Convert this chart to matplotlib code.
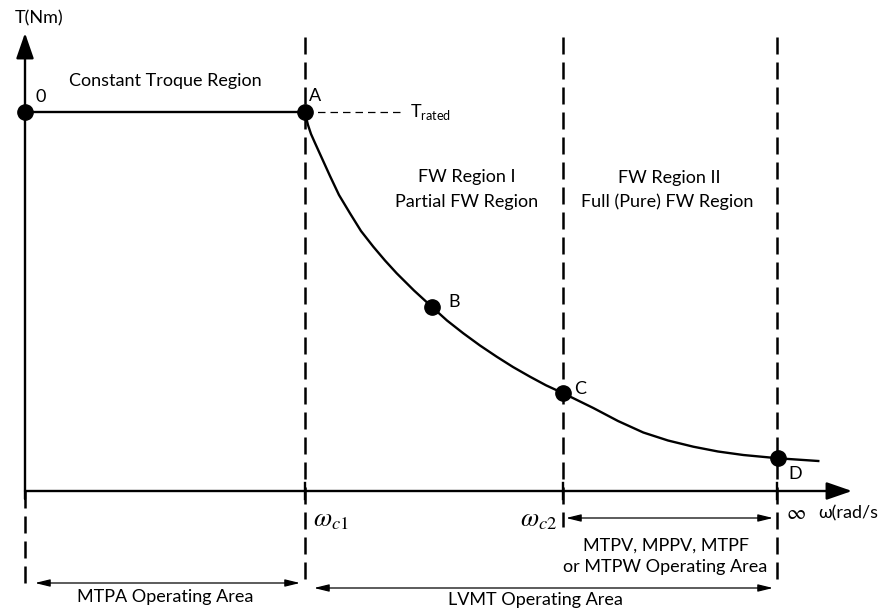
import matplotlib
matplotlib.use("Agg")
import matplotlib.pyplot as plt

plt.rcParams['font.family'] = ['Lato', 'DejaVu Sans']
plt.rcParams['mathtext.fontset'] = 'stix'

# speed (w) and torque (T) in drawing units, origin at the axes crossing
w_c1 = 280
w_c2 = 538
w_inf = 752
T_rated = 379
w_end = 827
T_top = 458

# torque-speed envelope
curve_w = [0, 280, 281, 283, 286, 290, 295, 300, 305, 314, 325, 336, 348.3,
           360, 371.7, 389, 406.7, 422, 438.3, 455, 471.7, 488, 505, 521,
           538.3, 568.3, 593, 618.3, 643, 668.3, 693, 718.3, 753.3, 793.3]
curve_T = [379, 379, 374, 366, 357, 348, 337, 326, 315, 296, 277.7, 260, 244.3,
           230.5, 217.7, 200.5, 184.3, 170.5, 157.7, 145.5, 134.3, 124, 114.3, 105.7,
           97.7, 83, 70, 58.5, 50.5, 44.3, 39.5, 36, 32.7, 30]

pt_names = ['0', 'A', 'B', 'C', 'D']
pt_w = [0, 280, 406.7, 538.3, 753.3]
pt_T = [379, 379, 184.3, 97.7, 32.7]

fig = plt.figure(figsize=(8.88, 6.12), dpi=100)
ax = fig.add_axes([0, 0, 1, 1])
ax.set_xlim(-25, 863)
ax.set_ylim(-121, 491)
ax.axis('off')

#坐标轴
head = dict(arrowstyle='-|>,head_length=1.3,head_width=0.45', lw=1.7,
            color='black', mutation_scale=12, shrinkA=0, shrinkB=0)
ax.annotate('', xy=(0, T_top), xytext=(0, -8), arrowprops=head)
ax.annotate('', xy=(w_end, 0), xytext=(0, 0), arrowprops=head)
for w in [w_c1, w_c2, w_inf]:
    ax.plot([w, w], [-8, 8], color='black', lw=1.7)

#虚线
dash = dict(color='black', lw=1.8, dashes=(6.8, 3.2))
ax.plot([0, 0], [0, -92], **dash)
ax.plot([w_c1, w_c1], [454, -92], **dash)
ax.plot([w_c2, w_c2], [454, -36], **dash)
ax.plot([w_inf, w_inf], [454, -92], **dash)
ax.plot([w_c1, 377], [T_rated, T_rated], color='black', lw=0.9, dashes=(6, 4))

#曲线
ax.plot(curve_w, curve_T, color='black', lw=1.7, solid_joinstyle='round')
ax.plot(pt_w, pt_T, 'o', color='black', ms=11, ls='none')

fs = 13
ax.text(14, 473, 'T(Nm)', fontsize=fs, ha='center', va='center')
ax.text(140, 410, 'Constant Troque Region', fontsize=fs, ha='center', va='center')
ax.text(10, 394, '0', fontsize=fs, ha='left', va='center')
ax.text(284, 395, 'A', fontsize=fs, ha='left', va='center')
ax.text(423, 189, 'B', fontsize=fs, ha='left', va='center')
ax.text(549, 102, 'C', fontsize=fs, ha='left', va='center')
ax.text(763, 17, 'D', fontsize=fs, ha='left', va='center')
ax.text(385, 379, r'T$_\mathregular{rated}$', fontsize=fs, ha='left', va='center',
        math_fontfamily='dejavusans')
ax.text(442, 314, 'FW Region I', fontsize=fs, ha='center', va='center')
ax.text(442, 289, 'Partial FW Region', fontsize=fs, ha='center', va='center')
ax.text(644, 313, 'FW Region II', fontsize=fs, ha='center', va='center')
ax.text(642, 289, 'Full (Pure) FW Region', fontsize=fs, ha='center', va='center')

ax.text(288, -29, r'$\omega_{c1}$', fontsize=19, ha='left', va='center')
ax.text(532, -29, r'$\omega_{c2}$', fontsize=19, ha='right', va='center')
ax.text(771, -22, r'$\infty$', fontsize=15, ha='center', va='center')
ax.text(793, -22, 'ω(rad/s', fontsize=fs, ha='left', va='center')

#工作区箭头
arr = dict(arrowstyle='<|-|>,head_length=0.9,head_width=0.22', lw=0.9,
           color='black', mutation_scale=10, shrinkA=0, shrinkB=0)
ax.annotate('', xy=(541, -27), xytext=(748, -27), arrowprops=arr)
ax.annotate('', xy=(289, -97), xytext=(748, -97), arrowprops=arr)
ax.annotate('', xy=(10, -92), xytext=(275, -92), arrowprops=arr)
ax.text(641, -55, 'MTPV, MPPV, MTPF', fontsize=fs, ha='center', va='center')
ax.text(640, -76, 'or MTPW Operating Area', fontsize=fs, ha='center', va='center')
ax.text(510, -109, 'LVMT Operating Area', fontsize=fs, ha='center', va='center')
ax.text(140, -106, 'MTPA Operating Area', fontsize=fs, ha='center', va='center')

fig.savefig('out.png', dpi=100)
